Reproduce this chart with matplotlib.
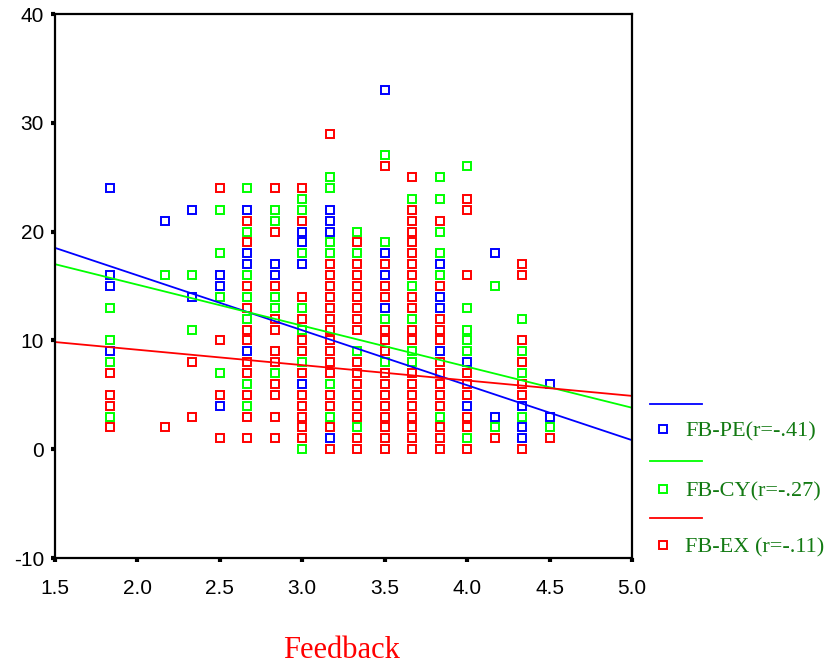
import matplotlib.pyplot as plt
from matplotlib.lines import Line2D

plt.rcParams['axes.unicode_minus'] = False

# feedback levels (x) -> scores
pe = {11/6: [24, 16, 15, 9], 13/6: [21], 7/3: [22, 14], 2.5: [16, 15, 4],
      8/3: [22, 18, 17, 9], 17/6: [17, 16], 3.0: [20, 19, 17, 6],
      19/6: [22, 21, 20, 1], 3.5: [33, 18, 16, 13], 23/6: [17, 14, 13, 9],
      4.0: [8, 4], 25/6: [18, 3], 13/3: [4, 2, 1], 4.5: [6, 3]}

cy = {11/6: [13, 10, 8, 3], 13/6: [16], 7/3: [16, 11], 2.5: [22, 18, 14, 7],
      8/3: [24, 20, 16, 14, 12, 6, 4], 17/6: [22, 21, 14, 13, 7],
      3.0: [23, 22, 18, 13, 11, 8, 0], 19/6: [25, 24, 19, 18, 6, 3],
      10/3: [20, 18, 9, 2], 3.5: [27, 19, 12, 8], 11/3: [23, 15, 12, 9, 8],
      23/6: [25, 23, 20, 18, 16, 3], 4.0: [26, 13, 11, 10, 9, 1],
      25/6: [15, 2], 13/3: [12, 9, 7, 3], 4.5: [2]}

ex = {11/6: [7, 5, 4, 2], 13/6: [2], 7/3: [8, 3], 2.5: [24, 10, 5, 1],
      8/3: [21, 19, 15, 13, 11, 10, 8, 7, 5, 3, 1],
      17/6: [24, 20, 15, 12, 11, 9, 8, 6, 5, 3, 1],
      3.0: [24, 21, 14, 12, 10, 9, 7, 5, 4, 3, 2, 1],
      19/6: [29, 17, 16, 15, 14, 13, 12, 11, 10, 9, 8, 7, 5, 4, 2, 0],
      10/3: [19, 17, 16, 15, 14, 13, 12, 11, 8, 7, 6, 5, 4, 3, 1, 0],
      3.5: [26, 17, 15, 14, 11, 10, 9, 7, 6, 5, 4, 3, 2, 1, 0],
      11/3: [25, 22, 21, 20, 19, 18, 17, 16, 14, 13, 11, 10, 7, 6, 5, 4, 3, 2, 1, 0],
      23/6: [21, 15, 12, 11, 10, 8, 7, 6, 5, 4, 2, 1, 0],
      4.0: [23, 22, 16, 7, 6, 5, 3, 2, 0], 25/6: [1],
      13/3: [17, 16, 10, 8, 6, 5, 0], 4.5: [1]}

labels = ['FB-PE(r=-.41)', 'FB-CY(r=-.27)', 'FB-EX (r=-.11)']
colors = ['#0000ff', '#00ff00', '#ff0000']
# fit lines: intercept, slope (as drawn in the reference)
fit_b0 = [26.08, 22.66, 11.97]
fit_b1 = [-5.05, -3.77, -1.414]


def flat(d):
    xs, ys = [], []
    for k, v in d.items():
        xs += [k] * len(v)
        ys += v
    return xs, ys


fig = plt.figure(figsize=(8.4, 6.68), dpi=100)
ax = fig.add_axes([55/840, 1-558/668, (632-55)/840, (558-14)/668])

for d, c in zip([pe, cy, ex], colors):
    xs, ys = flat(d)
    ax.plot(xs, ys, 's', ms=6, mfc='none', mec=c, mew=1.4, ls='none')

xl = [1.5, 5.0]
for b0, b1, c in zip(fit_b0, fit_b1, colors):
    ax.plot(xl, [b0 + b1*x for x in xl], color=c, lw=1.3)

ax.set_xlim(1.5, 5.0)
ax.set_ylim(-10, 40)
ax.set_xticks([1.5, 2.0, 2.5, 3.0, 3.5, 4.0, 4.5, 5.0])
ax.set_yticks([-10, 0, 10, 20, 30, 40])
ax.set_xticklabels(['1.5', '2.0', '2.5', '3.0', '3.5', '4.0', '4.5', '5.0'])
ax.tick_params(direction='out', length=3, width=3,
               labelsize=15, labelfontfamily='Liberation Sans')
ax.tick_params(axis='x', pad=12)
ax.tick_params(axis='y', pad=5)
for s in ax.spines.values():
    s.set_linewidth(1.6)

fig.text(342/840, 1-651/668, 'Feedback', color='red', ha='center', va='center',
         family='Liberation Serif', fontsize=22)

# legend, SPSS style
line_y = [404, 461, 518]
mark_y = [429, 489, 545]
for i in range(3):
    fig.add_artist(Line2D([650/840, 702/840], [1-line_y[i]/668]*2,
                          color=colors[i], lw=1.3, transform=fig.transFigure))
    fig.add_artist(Line2D([663/840], [1-mark_y[i]/668], marker='s', ms=5.5,
                          mfc='none', mec=colors[i], mew=1.4, ls='none',
                          transform=fig.transFigure))
    fig.text(685/840, 1-(mark_y[i]+3)/668, labels[i], color='#137a13',
             family='Liberation Serif', fontsize=16, va='center', ha='left')

fig.savefig('out.png', dpi=100)
